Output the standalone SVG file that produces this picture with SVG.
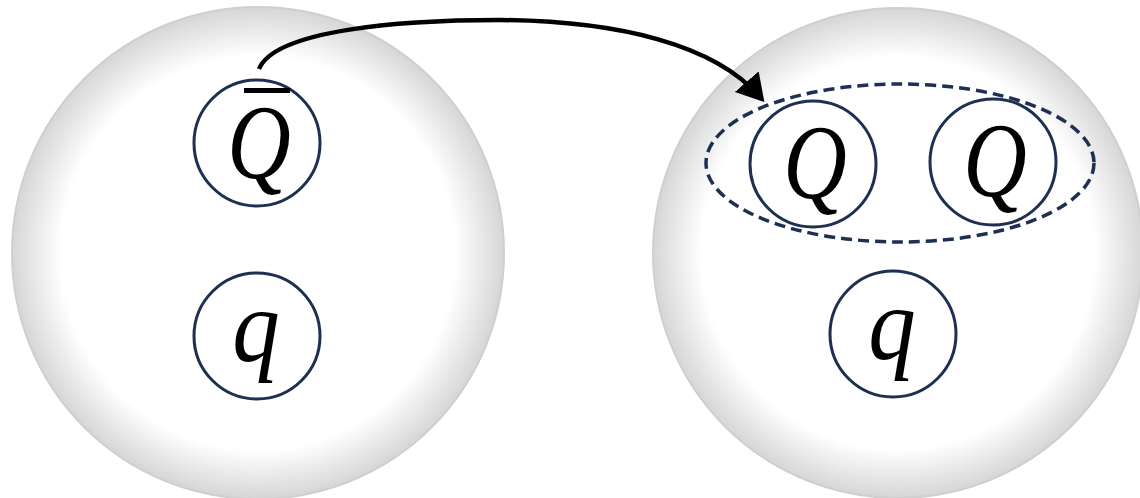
<svg xmlns="http://www.w3.org/2000/svg" width="1140" height="498" viewBox="0 0 1140 498">
<defs>
<radialGradient id="ball" cx="50%" cy="50%" r="50%">
<stop offset="0" stop-color="#ffffff"/>
<stop offset="0.8" stop-color="#ffffff"/>
<stop offset="1" stop-color="#d6d6d6"/>
</radialGradient>
<marker id="arr" markerWidth="7" markerHeight="7" refX="4.5" refY="3.5" orient="auto" markerUnits="strokeWidth">
<path d="M0,0 L6,3.5 L0,7 z" fill="#000"/>
</marker>
<style>
.big{fill:url(#ball);stroke:#cfcfcf;stroke-width:2}
.node{fill:#fff;stroke:#1d2f52;stroke-width:3}
.lbl{font-family:"Liberation Serif","DejaVu Serif",serif;font-style:italic;font-size:100px;fill:#000;text-anchor:middle}
</style>
</defs>
<g id="hadronL"><circle class="big" cx="258" cy="253" r="246"/></g>
<g id="hadronR"><circle class="big" cx="898" cy="253" r="245"/></g>
<g id="qbar"><circle class="node" cx="257" cy="143" r="63"/><text class="lbl" transform="translate(259,178) scale(0.88,1.06)">Q</text><rect x="244" y="88" width="46" height="5" fill="#000"/></g>
<g id="qL"><circle class="node" cx="257" cy="336" r="63"/><text class="lbl" transform="translate(256,361) scale(0.95,1.03)">q</text></g>
<g id="Q1"><circle class="node" cx="813" cy="164" r="63"/><text class="lbl" transform="translate(815,198) scale(0.88,1.06)">Q</text></g>
<g id="Q2"><circle class="node" cx="993" cy="162" r="63"/><text class="lbl" transform="translate(995,196) scale(0.88,1.06)">Q</text></g>
<g id="qR"><circle class="node" cx="893" cy="334" r="63"/><text class="lbl" transform="translate(892,359) scale(0.95,1.03)">q</text></g>
<g id="pair"><ellipse cx="900" cy="163" rx="194" ry="79" fill="none" stroke="#1d2f52" stroke-width="3.5" stroke-dasharray="11,6"/></g>
<g id="connectors"><path d="M259,69 C275,30 400,20 500,20 C620,21 715,45 760,97" fill="none" stroke="#000" stroke-width="4.5" marker-end="url(#arr)"/></g>
</svg>
